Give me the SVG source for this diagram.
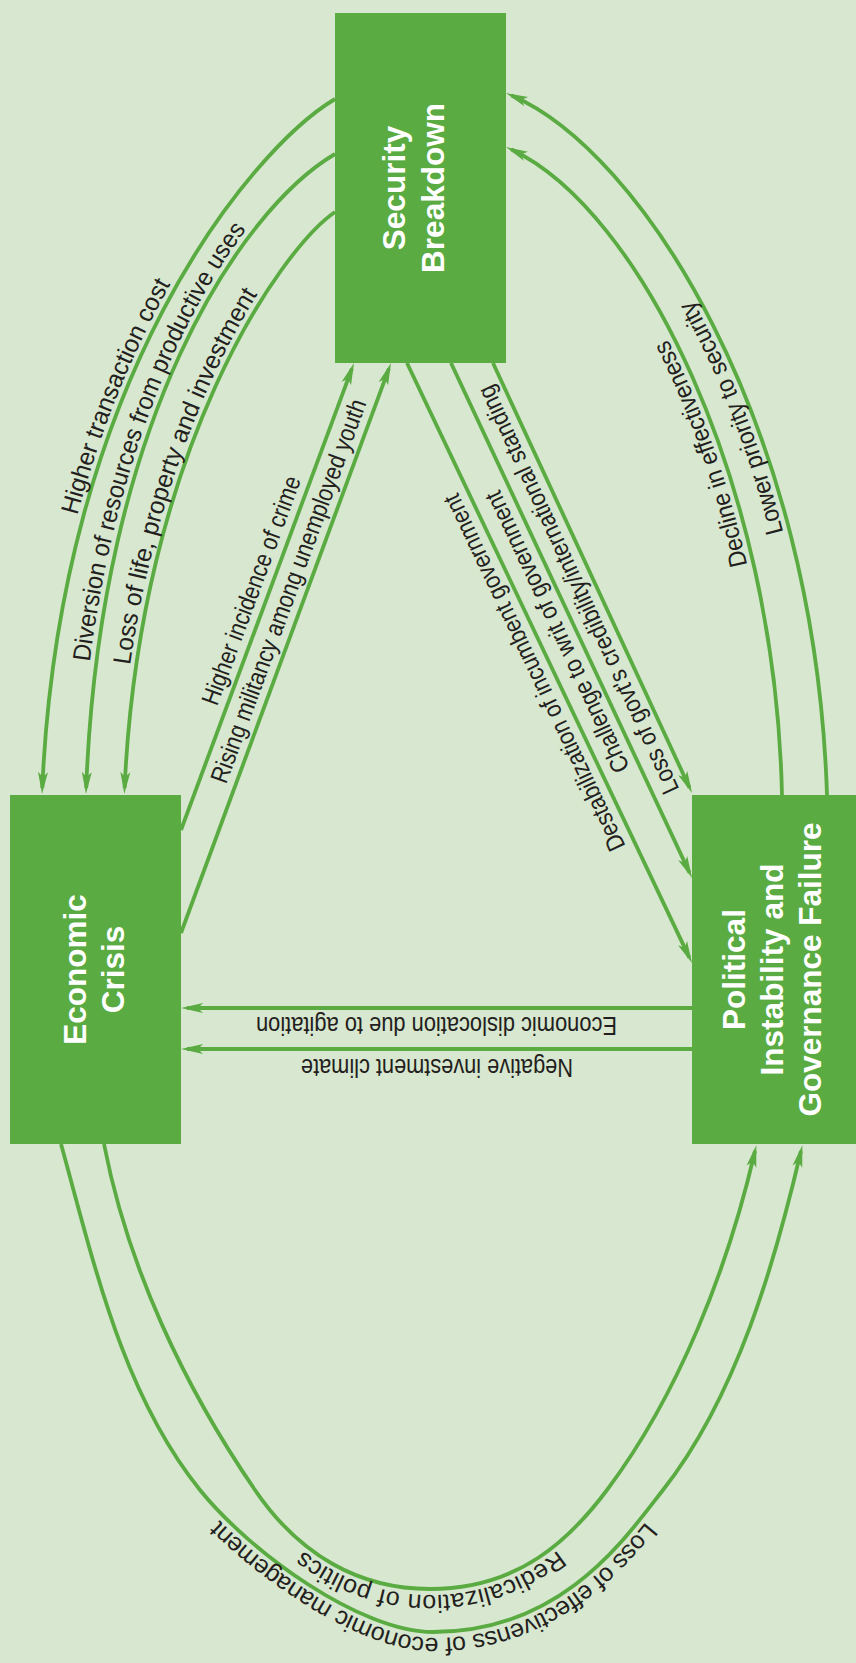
<svg xmlns="http://www.w3.org/2000/svg" width="856" height="1663" viewBox="0 0 856 1663">
<defs>
<style>
.conn{fill:none;stroke:#59ab42;stroke-width:3.8;marker-end:url(#ah)}
.box{fill:#59ab42}
.nt{font-family:"Liberation Sans",Arial,sans-serif;font-weight:bold;font-size:31.5px;fill:#ffffff;text-anchor:middle}
.lb{font-family:"Liberation Sans Narrow","Liberation Sans",Arial,sans-serif;font-size:25px;fill:#231f20}
.mid{text-anchor:middle}
.tp{fill:none;stroke:none}
</style>
<marker id="ah" viewBox="-23 -6 29 12" refX="-6" refY="0" markerWidth="29" markerHeight="12" markerUnits="userSpaceOnUse" orient="auto">
<path d="M0,0 L-22,-5 L-17,0 L-22,5 Z" fill="#59ab42"/>
</marker>
<path id="b1" class="tp" d="M35,792.7 C53,379.7 246.4,144 331.4,93"/>
<path id="b2" class="tp" d="M79,792.7 C93,419.7 236.4,204 331.4,148"/>
<path id="b3" class="tp" d="M118,792.7 C133,449.7 276,244.2 331,206.2"/>
<path id="b4" class="tp" d="M820,795.2 C808,420.2 637.2,156.4 505.2,99.4"/>
<path id="b5" class="tp" d="M775,795.2 C768,480.2 637,216.3 505,154.3"/>
<path id="bR" class="tp" d="M611.8,1493.6 C575.8,1541.6 520,1595 430,1595 C360,1595 295,1559.4 250,1493.4"/>
<path id="bO" class="tp" d="M667.7,1493.7 C630.7,1540.7 563,1638 433,1638 C360,1638 245.3,1555.8 195.3,1493.8"/>
</defs>
<rect x="0" y="0" width="856" height="1663" fill="#d8e7cf"/>
<g id="connectors">
<path class="conn" d="M335,99 C250,150 60,380 42.3,788"/>
<path class="conn" d="M335,154 C240,210 100,420 86.2,788"/>
<path class="conn" d="M335,212 C280,250 140,450 124.6,788"/>
<path class="conn" d="M827,795 C815,420 640,150 511.5,95.4"/>
<path class="conn" d="M782,795 C775,480 640,210 511.4,149.5"/>
<path class="conn" d="M181,830 L351.9,368.6"/>
<path class="conn" d="M181,933 L388.9,368.6"/>
<path class="conn" d="M407,363 L689.4,957.6"/>
<path class="conn" d="M451,363 L689.5,872.6"/>
<path class="conn" d="M493,363 L689.5,787.6"/>
<path class="conn" d="M692,1008 L187,1008"/>
<path class="conn" d="M692,1049 L187,1049"/>
<path class="conn" d="M61,1144 C94,1263 122,1393 200,1490 C250,1552 360,1632 433,1632 C563,1632 626,1537 663,1490 C737,1396 775,1262 801,1151"/>
<path class="conn" d="M104,1144 C128,1268 184.5,1387 255,1490 C300,1556 360,1589 430,1589 C520,1589 571,1538 607,1490 C679,1394 728,1268 755,1151"/>
</g>
<g id="node-security">
<rect class="box" x="335" y="13" width="171" height="350"/>
<text class="nt" transform="translate(405,188) rotate(-90)">Security</text>
<text class="nt" transform="translate(444,188) rotate(-90)">Breakdown</text>
</g>
<g id="node-economic">
<rect class="box" x="10" y="795" width="171" height="349"/>
<text class="nt" transform="translate(86,969.5) rotate(-90)">Economic</text>
<text class="nt" transform="translate(124,969.5) rotate(-90)">Crisis</text>
</g>
<g id="node-political">
<rect class="box" x="692" y="795" width="171" height="349"/>
<text class="nt" transform="translate(745,969.5) rotate(-90)">Political</text>
<text class="nt" transform="translate(783,969.5) rotate(-90)">Instability and</text>
<text class="nt" transform="translate(821,969.5) rotate(-90)">Governance Failure</text>
</g>
<g id="labels">
<text class="lb"><textPath href="#b1" startOffset="281" textLength="250" lengthAdjust="spacingAndGlyphs">Higher transaction cost</textPath></text>
<text class="lb"><textPath href="#b2" startOffset="131" textLength="465" lengthAdjust="spacingAndGlyphs">Diversion of resources from productive uses</textPath></text>
<text class="lb"><textPath href="#b3" startOffset="128" textLength="395" lengthAdjust="spacingAndGlyphs">Loss of life, property and investment</textPath></text>
<text class="lb"><textPath href="#b5" startOffset="232" textLength="240" lengthAdjust="spacingAndGlyphs">Decline in effectiveness</textPath></text>
<text class="lb"><textPath href="#b4" startOffset="266" textLength="250" lengthAdjust="spacingAndGlyphs">Lower priority to security</textPath></text>
<text class="lb mid" transform="translate(259.1,593.4) rotate(-69.67)" textLength="242" lengthAdjust="spacingAndGlyphs">Higher incidence of crime</text>
<text class="lb mid" transform="translate(296.4,593.9) rotate(-69.78)" textLength="407" lengthAdjust="spacingAndGlyphs">Rising militancy among unemployed youth</text>
<text class="lb mid" transform="translate(541.8,669) rotate(-115.4)" textLength="392" lengthAdjust="spacingAndGlyphs">Destabilization of incumbent government</text>
<text class="lb mid" transform="translate(564.7,628.4) rotate(-115.1)" textLength="308" lengthAdjust="spacingAndGlyphs">Challenge to writ of government</text>
<text class="lb mid" transform="translate(585.8,586.3) rotate(-114.8)" textLength="447" lengthAdjust="spacingAndGlyphs">Loss of govt's credibility/international standing</text>
<text class="lb mid" transform="translate(436.5,1017) rotate(180)" textLength="361" lengthAdjust="spacingAndGlyphs">Economic dislocation due to agitation</text>
<text class="lb mid" transform="translate(437,1059) rotate(180)" textLength="272" lengthAdjust="spacingAndGlyphs">Negative investment climate</text>
<text class="lb mid"><textPath href="#bR" startOffset="50%" textLength="275" lengthAdjust="spacing">Redicalization of politics</textPath></text>
<text class="lb mid"><textPath href="#bO" startOffset="50%" textLength="500" lengthAdjust="spacing">Loss of effectivenss of economic management</textPath></text>
</g>
</svg>
